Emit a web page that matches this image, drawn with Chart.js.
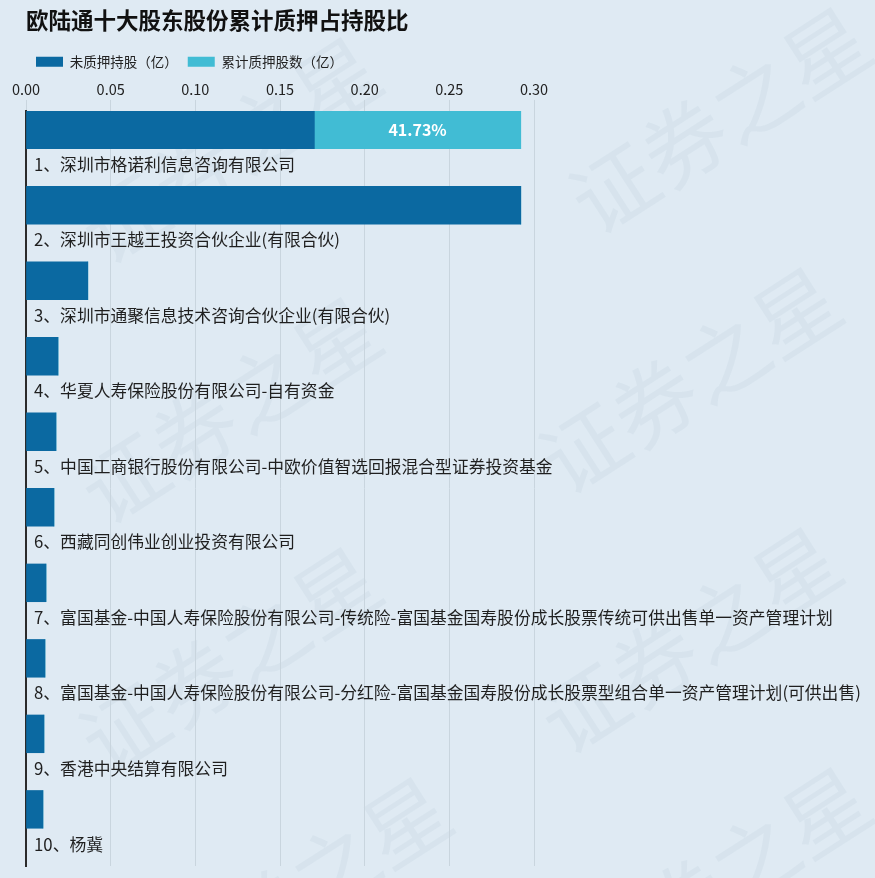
<!DOCTYPE html>
<html>
<head>
<meta charset="utf-8">
<script src="https://cdn.jsdelivr.net/npm/chart.js@4.4.1/dist/chart.umd.min.js"></script>
<style>
    html, body { margin: 0; padding: 0; background: #dfeaf3; }
    #wrap { width: 875px; height: 878px; position: relative; }
</style>
</head>
<body>
<div id="wrap"><canvas id="chart"></canvas></div>
<script>
// Shareholders (top 10) - in order from top to bottom
const holders = [
    '1、深圳市格诺利信息咨询有限公司',
    '2、深圳市王越王投资合伙企业(有限合伙)',
    '3、深圳市通聚信息技术咨询合伙企业(有限合伙)',
    '4、华夏人寿保险股份有限公司-自有资金',
    '5、中国工商银行股份有限公司-中欧价值智选回报混合型证券投资基金',
    '6、西藏同创伟业创业投资有限公司',
    '7、富国基金-中国人寿保险股份有限公司-传统险-富国基金国寿股份成长股票传统可供出售单一资产管理计划',
    '8、富国基金-中国人寿保险股份有限公司-分红险-富国基金国寿股份成长股票型组合单一资产管理计划(可供出售)',
    '9、香港中央结算有限公司',
    '10、杨冀'
];

// 未质押持股 (亿)
const unpledged = [0.1703, 0.2922, 0.0365, 0.0189, 0.0177, 0.0165, 0.0118, 0.0112, 0.0106, 0.0100];
// 累计质押股数 (亿)
const pledged = [0.1219, 0, 0, 0, 0, 0, 0, 0, 0, 0];
// 质押占持股比 labels
const pledgeRatio = ['41.73%', '', '', '', '', '', '', '', '', ''];

const xTicks = [0, 0.05, 0.10, 0.15, 0.20, 0.25, 0.30];

const COLORS = {
    unpledged: '#0b69a1',
    pledged: '#41bcd4',
    text: '#1f1f1f',
    grid: '#c9d5de',
    axis: '#2b2b2b'
};
const FONT = '"Noto Sans CJK SC", "Noto Sans", sans-serif';

/**
 * Background watermark "证券之星"
 */
const watermarkPlugin = {
    id: 'watermark',
    beforeDraw(chart) {
        const ctx = chart.ctx;
        ctx.save();
        ctx.fillStyle = 'rgba(165, 185, 200, 0.13)';
        ctx.font = `84px ${FONT}`;
        ctx.textAlign = 'center';
        ctx.textBaseline = 'middle';
        const spots = [[230, 150], [720, 120], [230, 410], [690, 380], [230, 660], [690, 640], [300, 890], [720, 880]];
        for (const [x, y] of spots) {
            ctx.save();
            ctx.translate(x, y);
            ctx.rotate(-Math.PI / 5.5);
            ctx.fillText('证券之星', 0, 0);
            ctx.restore();
        }
        ctx.restore();
    }
};

/**
 * Holder names under each bar + percentage inside pledged segment
 */
const labelPlugin = {
    id: 'holderLabels',
    afterDatasetsDraw(chart) {
        const ctx = chart.ctx;
        const yScale = chart.scales.y;
        const area = chart.chartArea;
        const band = (area.bottom - area.top) / holders.length;
        ctx.save();
        ctx.fillStyle = COLORS.text;
        ctx.font = `16.8px ${FONT}`;
        ctx.textAlign = 'left';
        ctx.textBaseline = 'middle';
        holders.forEach((name, i) => {
            const y = yScale.getPixelForValue(i) + band / 4 - 3;
            ctx.fillText(name, area.left + 8, y);
        });

        const meta = chart.getDatasetMeta(1);
        ctx.fillStyle = '#ffffff';
        ctx.font = `bold 16px ${FONT}`;
        ctx.textAlign = 'center';
        meta.data.forEach((bar, i) => {
            if (!pledgeRatio[i]) return;
            const x = (bar.x + bar.base) / 2;
            ctx.fillText(pledgeRatio[i], x, bar.y);
        });
        ctx.restore();
    }
};

const ctx = document.getElementById('chart').getContext('2d');
new Chart(ctx, {
    type: 'bar',
    data: {
        labels: holders,
        datasets: [
            {
                label: '未质押持股（亿）',
                data: unpledged,
                backgroundColor: COLORS.unpledged,
                stack: 'bars',
                barPercentage: 1,
                categoryPercentage: 1
            },
            {
                label: '累计质押股数（亿）',
                data: pledged,
                backgroundColor: COLORS.pledged,
                stack: 'bars',
                barPercentage: 1,
                categoryPercentage: 1
            },
            {
                // empty slot that reserves the lower half of each row for the name
                label: '_space',
                data: holders.map(() => null),
                stack: 'space',
                barPercentage: 1,
                categoryPercentage: 1
            }
        ]
    },
    options: {
        indexAxis: 'y',
        responsive: true,
        maintainAspectRatio: false,
        animation: false,
        layout: { padding: { left: 26, right: 341, top: 0, bottom: 12 } },
        plugins: {
            title: {
                display: true,
                text: '欧陆通十大股东股份累计质押占持股比',
                align: 'start',
                color: '#111',
                font: { family: FONT, size: 22.5, weight: 'bold' },
                padding: { top: 7, bottom: 11 }
            },
            legend: {
                position: 'top',
                align: 'start',
                labels: {
                    filter: (item) => item.text !== '_space',
                    boxWidth: 27,
                    boxHeight: 10,
                    color: '#222',
                    font: { family: FONT, size: 13.5 },
                    padding: 10
                }
            },
            tooltip: { enabled: false }
        },
        scales: {
            x: {
                position: 'top',
                stacked: true,
                min: 0,
                max: 0.30,
                afterBuildTicks: (scale) => {
                    scale.ticks = xTicks.map(v => ({ value: v }));
                },
                grid: { color: COLORS.grid, lineWidth: 1, tickLength: 11 },
                border: { display: false },
                ticks: {
                    color: '#222',
                    padding: 2,
                    font: { family: FONT, size: 14.5 },
                    callback: (v) => Number(v).toFixed(2)
                }
            },
            y: {
                stacked: true,
                grid: { display: false },
                border: { display: true, color: COLORS.axis, width: 2 },
                ticks: { display: false },
                afterFit: (scale) => { scale.width = 0; }
            }
        }
    },
    plugins: [watermarkPlugin, labelPlugin]
});
</script>
</body>
</html>
